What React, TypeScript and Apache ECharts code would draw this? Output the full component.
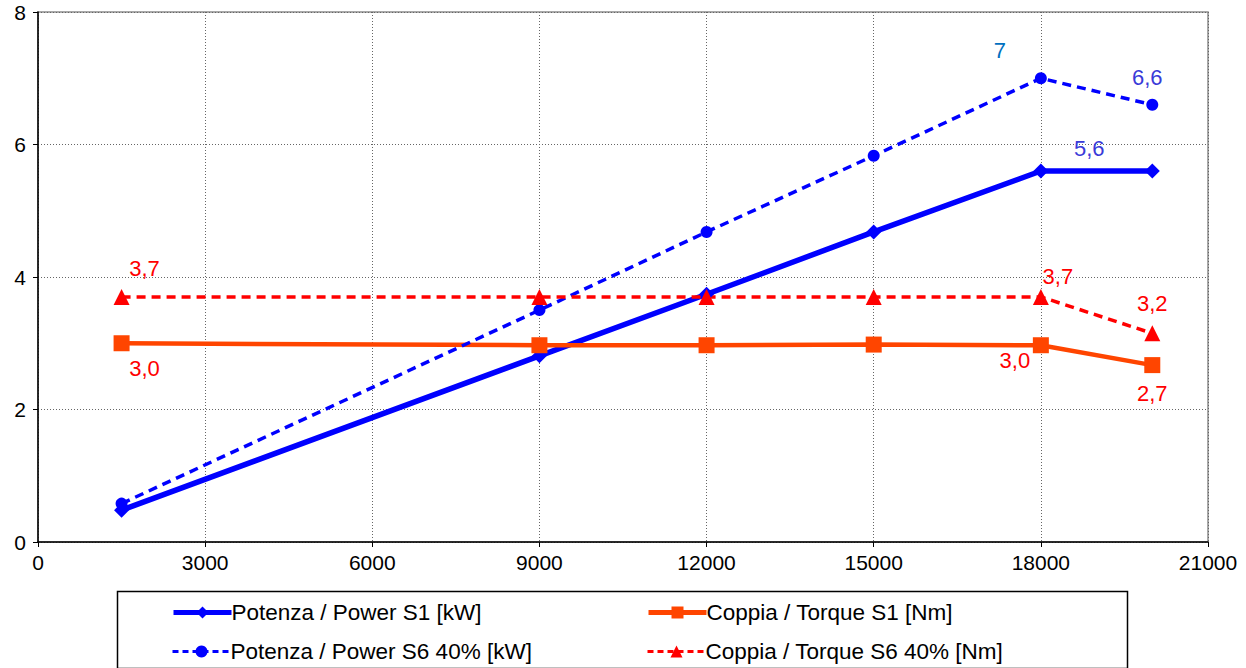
import React, { useEffect, useRef } from "react";
import * as echarts from "echarts";

const rpm = [1500, 9000, 12000, 15000, 18000, 20000];
const powerS1 = [0.48, 2.81, 3.74, 4.68, 5.6, 5.6];
const powerS6 = [0.58, 3.5, 4.68, 5.83, 7.0, 6.6];
const torqueS1 = [3.0, 2.97, 2.97, 2.98, 2.97, 2.67];
const torqueS6 = [3.7, 3.7, 3.7, 3.7, 3.7, 3.15];

const powerS1Labels = ["", "", "", "", "", "5,6"];
const powerS6Labels = ["", "", "", "", "7", "6,6"];
const torqueS1Labels = ["3,0", "", "", "", "3,0", "2,7"];
const torqueS6Labels = ["3,7", "", "", "", "3,7", "3,2"];

const xTicks = [0, 3000, 6000, 9000, 12000, 15000, 18000, 21000];
const yTicks = [0, 2, 4, 6, 8];

const names = [
  "Potenza / Power S1 [kW]",
  "Coppia / Torque S1 [Nm]",
  "Potenza / Power S6 40% [kW]",
  "Coppia / Torque S6 40% [Nm]",
];

const FONT = "Liberation Sans, Arial, sans-serif";

function build(values: number[], labels: string[], offsets: number[][], color: string) {
  return rpm.map((x, i) => {
    const item: any = { value: [x, values[i]] };
    if (labels[i]) {
      item.label = {
        show: true,
        formatter: labels[i],
        position: "inside",
        offset: offsets[i],
        color: color,
        fontSize: 22,
        fontFamily: FONT,
      };
    }
    return item;
  });
}

function legendAt(name: string, left: number, top: number, width: number, dashed: boolean) {
  return {
    data: [name],
    orient: "horizontal",
    left: left,
    top: top,
    itemWidth: 58,
    itemHeight: 15,
    lineStyle: { width: width, type: dashed ? [6, 4] : "solid" },
    textStyle: { color: "#000", fontSize: 22.5, fontFamily: FONT, padding: [0, 0, 0, -5] },
  };
}

export default function App() {
  const ref = useRef<HTMLDivElement>(null);
  useEffect(() => {
    document.body.style.margin = "0";
    const chart = echarts.init(ref.current!, null, { renderer: "svg" });
    const z = [0, 0];
    const option: any = {
      animation: false,
      backgroundColor: "#ffffff",
      textStyle: { fontFamily: FONT },
      grid: {
        left: 38,
        right: 38,
        top: 12,
        bottom: 126,
        containLabel: false,
        show: true,
        borderColor: "#8c8c8c",
        borderWidth: 1.5,
      },
      xAxis: {
        type: "value",
        min: xTicks[0],
        max: xTicks[xTicks.length - 1],
        interval: 3000,
        axisLine: { show: true, lineStyle: { color: "#000", width: 1.5 } },
        axisTick: { show: true, length: 5, lineStyle: { color: "#000" } },
        axisLabel: { color: "#000", fontSize: 21, fontFamily: FONT, margin: 10, formatter: (v: number) => String(v) },
        splitLine: { show: true, lineStyle: { color: "#666", type: [1, 2], width: 1 } },
      },
      yAxis: {
        type: "value",
        min: yTicks[0],
        max: yTicks[yTicks.length - 1],
        interval: 2,
        axisLine: { show: true, lineStyle: { color: "#000", width: 1.5 } },
        axisTick: { show: true, length: 5, lineStyle: { color: "#000" } },
        axisLabel: { color: "#000", fontSize: 21, fontFamily: FONT, margin: 12, formatter: (v: number) => String(v) },
        splitLine: { show: true, lineStyle: { color: "#666", type: [1, 2], width: 1 } },
      },
      legend: [
        legendAt(names[0], 166, 596, 5, false),
        legendAt(names[1], 641, 596, 5, false),
        legendAt(names[2], 166, 635, 3, true),
        legendAt(names[3], 641, 635, 3, true),
      ],
      graphic: [
        {
          type: "rect",
          left: 115,
          top: 589,
          shape: { width: 1010, height: 77 },
          style: { fill: "none", stroke: "#000", lineWidth: 1.5 },
          silent: true,
        },
      ],
      series: [
        {
          name: names[0],
          type: "line",
          data: build(powerS1, powerS1Labels, [z, z, z, z, z, [-63, -23]], "#3A3AD8"),
          symbol: "diamond",
          symbolSize: 15,
          lineStyle: { color: "#0000FF", width: 5.5 },
          itemStyle: { color: "#0000FF" },
          z: 3,
        },
        {
          name: names[1],
          type: "line",
          data: build(torqueS1, torqueS1Labels, [[23, 25], z, z, z, [-26, 15], [0, 28]], "#FF0000"),
          symbol: "rect",
          symbolSize: 16,
          lineStyle: { color: "#FF4500", width: 4.5 },
          itemStyle: { color: "#FF4500" },
          z: 3,
        },
        {
          name: names[2],
          type: "line",
          data: build(powerS6, powerS6Labels, [z, z, z, z, [-41, -28], [-5, -27]], "#3A3AD8"),
          symbol: "circle",
          symbolSize: 12,
          lineStyle: { color: "#0000FF", width: 3.5, type: [9, 6] },
          itemStyle: { color: "#0000FF" },
          z: 3,
        },
        {
          name: names[3],
          type: "line",
          data: build(torqueS6, torqueS6Labels, [[23, -28], z, z, z, [17, -20], [0, -30]], "#FF0000"),
          symbol: "triangle",
          symbolSize: 16,
          lineStyle: { color: "#FF0000", width: 3.5, type: [9, 6] },
          itemStyle: { color: "#FF0000" },
          z: 3,
        },
      ],
    };
    option.series[2].data[4].label.color = "#0070C0";
    chart.setOption(option);
    return () => chart.dispose();
  }, []);
  return <div ref={ref} style={{ width: 1246, height: 668 }} />;
}
